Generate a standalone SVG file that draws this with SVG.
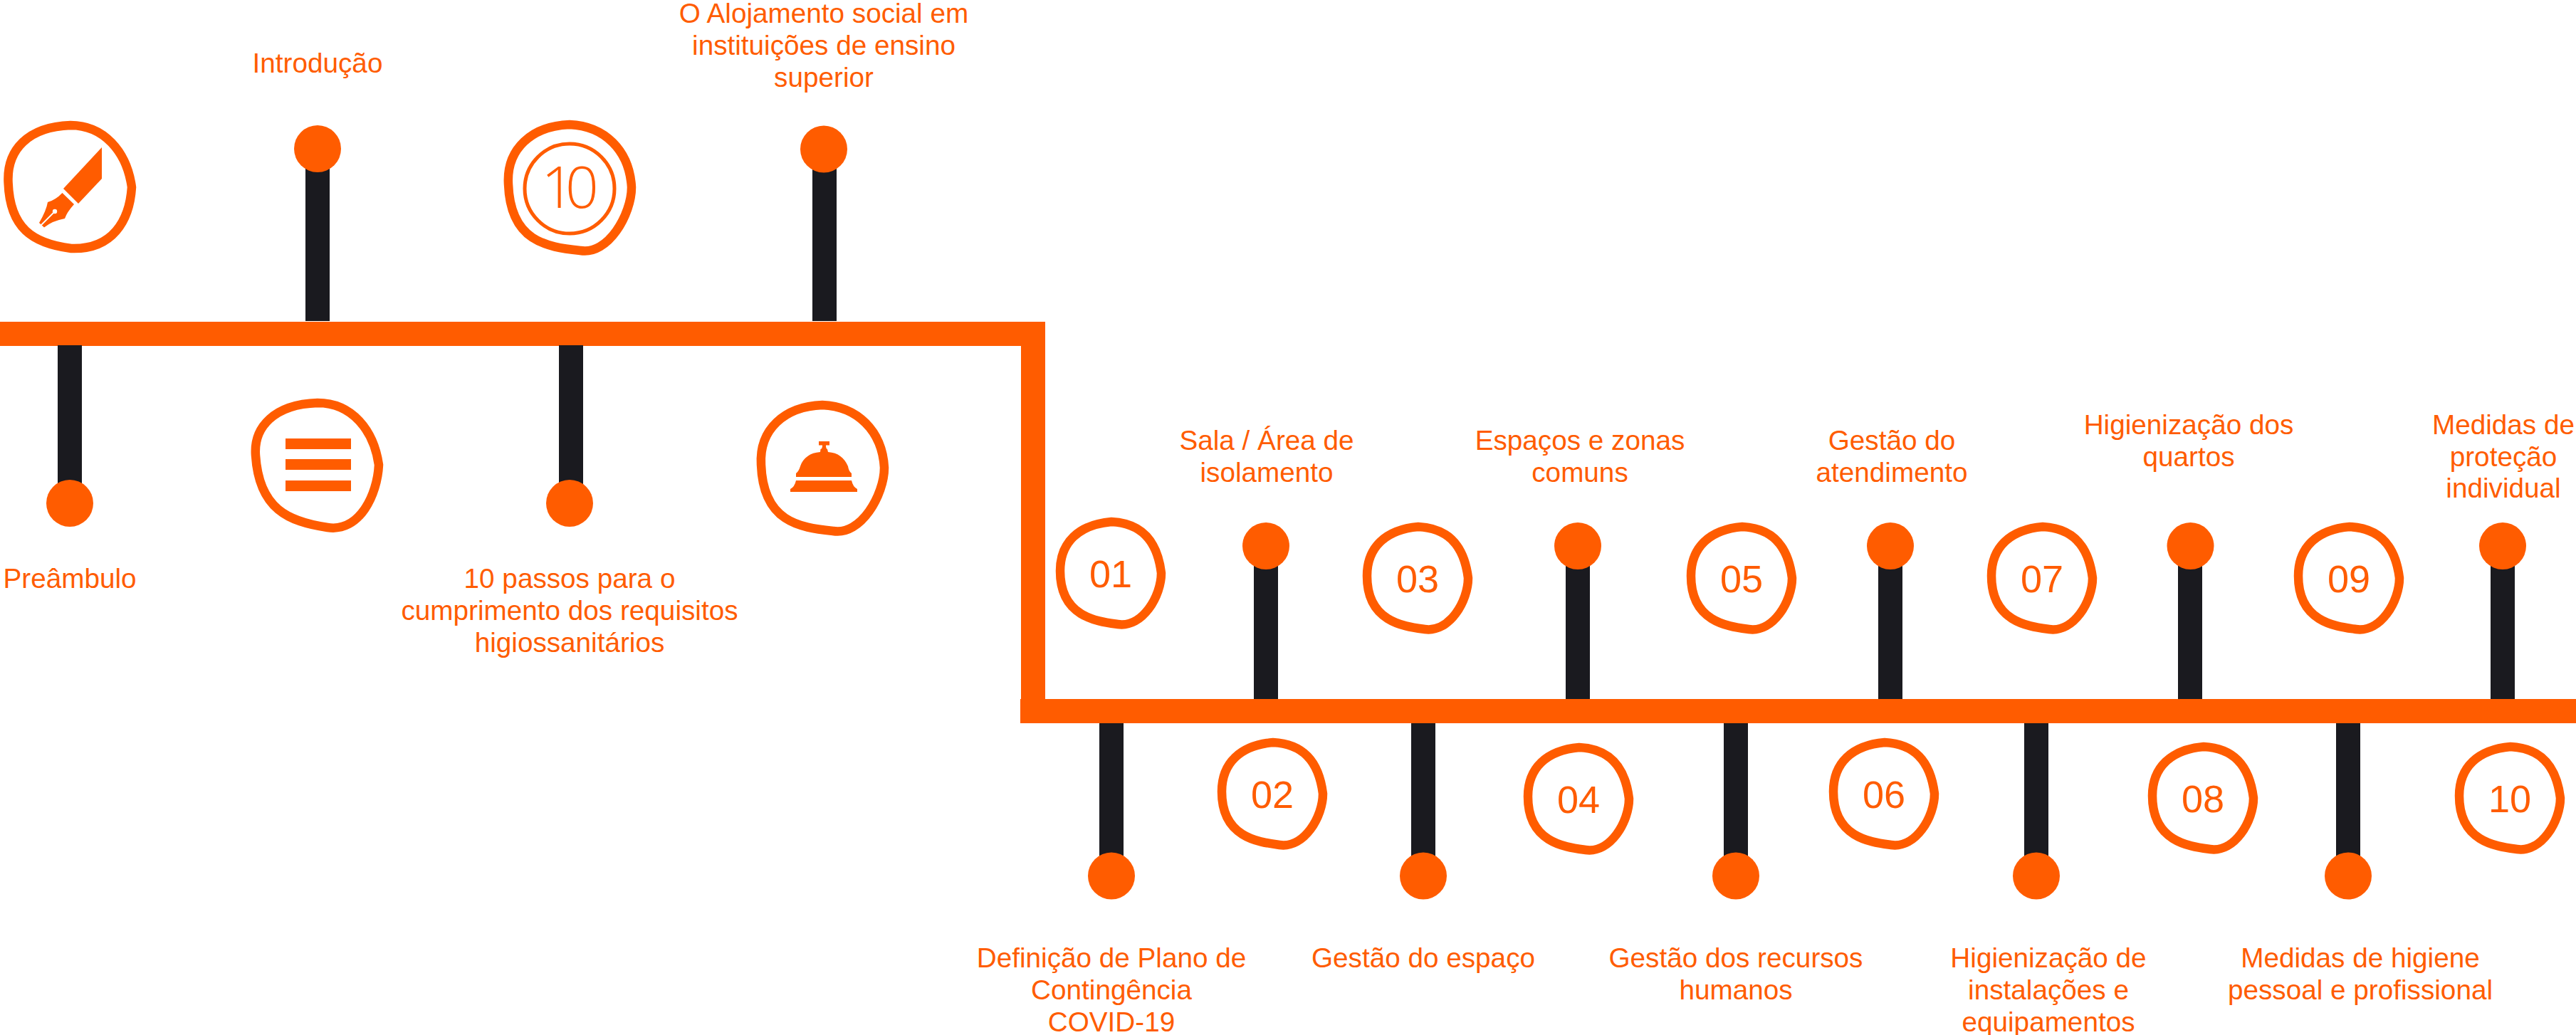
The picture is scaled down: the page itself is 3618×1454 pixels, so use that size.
<svg xmlns="http://www.w3.org/2000/svg" xmlns:xlink="http://www.w3.org/1999/xlink" width="3618" height="1454" viewBox="0 0 3618 1454">
<style>
text{font-family:"Liberation Sans",Arial,sans-serif;fill:#ff5c00;text-anchor:middle}
.l{font-size:38.700px}
.n{font-size:54px}
.blob{fill:none;stroke:#ff5c00;stroke-width:12.500;stroke-linejoin:round}
.bar{fill:#ff5c00}
.stem{fill:#1a1a1f}
.dot{fill:#ff5c00}
.ic{fill:#ff5c00}
.cut{fill:#fff}
</style>
<defs>
<path id="small" class="blob" d="M78 6C118 8 142 30 148 78C148 110 122 155 87 150C58 146 6 140 6 75C6 35 32 10 78 6Z"/>
<path id="big" class="blob" d="M93 6C142 8 177 42 180 94C180 132 147 190 108 183C60 178 10 170 7 90C4 40 40 8 93 6Z"/>
</defs>
<rect width="3618" height="1454" fill="#fff"/>
<g id="connectors">
<rect class="bar" x="0" y="452" width="1468" height="34"/>
<rect class="bar" x="1434" y="452" width="34" height="535"/>
<rect class="bar" x="1433" y="982" width="2185" height="34"/>
<rect class="stem" x="429" y="209" width="34" height="242"/>
<rect class="stem" x="1141" y="209" width="34" height="242"/>
<rect class="stem" x="81" y="485" width="34" height="222"/>
<rect class="stem" x="785" y="485" width="34" height="222"/>
<rect class="stem" x="1761" y="767" width="34" height="215"/>
<rect class="stem" x="2199" y="767" width="34" height="215"/>
<rect class="stem" x="2638" y="767" width="34" height="215"/>
<rect class="stem" x="3059" y="767" width="34" height="215"/>
<rect class="stem" x="3498" y="767" width="34" height="215"/>
<rect class="stem" x="1544" y="1016" width="34" height="214"/>
<rect class="stem" x="1982" y="1016" width="34" height="214"/>
<rect class="stem" x="2421" y="1016" width="34" height="214"/>
<rect class="stem" x="2843" y="1016" width="34" height="214"/>
<rect class="stem" x="3281" y="1016" width="34" height="214"/>
</g>
<g id="node-preambulo-icon">
<path class="blob" d="M99 176C145 176 178 212 185 263C182 310 158 351 100 349C45 342 14 320 11.600 257C9 210 40 178 99 176Z"/>
<path class="ic" d="M143 207V251L110 286L89 265Z"/>
<path class="ic" d="M87.500 271L104 287Q94 298 91 307Q74 310 62 319.500L55 313Q65 296 67 284Q78 281 87.500 271Z"/>
<path d="M76 298L57.500 316.500" stroke="#fff" stroke-width="1.800" fill="none"/>
<circle class="cut" cx="77" cy="297" r="3.200"/>
</g>
<g id="node-preambulo"><circle class="dot" cx="98" cy="707" r="33"/><text class="l" x="98" y="826">Preâmbulo</text></g>
<g id="node-introducao"><circle class="dot" cx="446" cy="209" r="33"/><text class="l" x="446" y="102">Introdução</text></g>
<g id="node-menu-icon">
<path class="blob" d="M446 566C495 566 525 605 532 653C530 695 505 748 460 741C405 733 364 715 359 640C356 600 385 568 446 566Z"/>
<rect class="ic" x="401" y="616" width="92" height="15"/>
<rect class="ic" x="401" y="645" width="92" height="15"/>
<rect class="ic" x="401" y="675" width="92" height="15"/>
</g>
<g id="node-10-icon">
<use xlink:href="#big" href="#big" transform="translate(707,169)"/>
<circle cx="800" cy="265" r="63" fill="none" stroke="#ff5c00" stroke-width="5"/>
<text x="794" y="292" style="font-family:'Open Sans',sans-serif;font-weight:300;font-size:82px;letter-spacing:-13px">10</text>
</g>
<g id="node-10-passos"><circle class="dot" cx="800" cy="707" r="33"/><text class="l" x="800" y="826">10 passos para o</text><text class="l" x="800" y="871">cumprimento dos requisitos</text><text class="l" x="800" y="916">higiossanitários</text></g>
<g id="node-alojamento"><circle class="dot" cx="1157" cy="209.500" r="33"/><text class="l" x="1157" y="32">O Alojamento social em</text><text class="l" x="1157" y="77">instituições de ensino</text><text class="l" x="1157" y="122">superior</text></g>
<g id="node-bell-icon">
<use xlink:href="#big" href="#big" transform="translate(1062,563)"/>
<path class="ic" d="M1118 670V665Q1122 662 1124 655C1128 643 1138 636 1152 635L1152.500 631Q1155 630 1155 627V625.500H1150V620H1165V625.500H1160V627Q1160 630 1162 631L1163 635C1177 636 1186 643 1191 655Q1192 662 1196 665V670Z"/>
<path class="ic" d="M1118 675H1196Q1198 684 1204 687V691H1110V687Q1116 684 1118 675Z"/>
</g>
<g id="node-01"><use xlink:href="#small" href="#small" transform="translate(1483,727)"/><text class="n" x="1560" y="825">01</text></g>
<g id="node-02"><use xlink:href="#small" href="#small" transform="translate(1710,1037)"/><text class="n" x="1787" y="1135">02</text></g>
<g id="node-03"><use xlink:href="#small" href="#small" transform="translate(1914,734)"/><text class="n" x="1991" y="832">03</text></g>
<g id="node-04"><use xlink:href="#small" href="#small" transform="translate(2140,1044)"/><text class="n" x="2217" y="1142">04</text></g>
<g id="node-05"><use xlink:href="#small" href="#small" transform="translate(2369,734)"/><text class="n" x="2446" y="832">05</text></g>
<g id="node-06"><use xlink:href="#small" href="#small" transform="translate(2569,1037)"/><text class="n" x="2646" y="1135">06</text></g>
<g id="node-07"><use xlink:href="#small" href="#small" transform="translate(2791,734)"/><text class="n" x="2868" y="832">07</text></g>
<g id="node-08"><use xlink:href="#small" href="#small" transform="translate(3017,1043)"/><text class="n" x="3094" y="1141">08</text></g>
<g id="node-09"><use xlink:href="#small" href="#small" transform="translate(3222,734)"/><text class="n" x="3299" y="832">09</text></g>
<g id="node-10"><use xlink:href="#small" href="#small" transform="translate(3448,1043)"/><text class="n" x="3525" y="1141">10</text></g>
<g id="node-sala"><circle class="dot" cx="1778" cy="767" r="33"/><text class="l" x="1779" y="632">Sala / Área de</text><text class="l" x="1779" y="677">isolamento</text></g>
<g id="node-espacos"><circle class="dot" cx="2216" cy="767" r="33"/><text class="l" x="2219" y="632">Espaços e zonas</text><text class="l" x="2219" y="677">comuns</text></g>
<g id="node-atendimento"><circle class="dot" cx="2655" cy="767" r="33"/><text class="l" x="2657" y="632">Gestão do</text><text class="l" x="2657" y="677">atendimento</text></g>
<g id="node-quartos"><circle class="dot" cx="3076.500" cy="767" r="33"/><text class="l" x="3074" y="610">Higienização dos</text><text class="l" x="3074" y="655">quartos</text></g>
<g id="node-protecao"><circle class="dot" cx="3515" cy="767" r="33"/><text class="l" x="3516" y="610">Medidas de</text><text class="l" x="3516" y="655">proteção</text><text class="l" x="3516" y="699">individual</text></g>
<g id="node-plano"><circle class="dot" cx="1561" cy="1230.500" r="33"/><text class="l" x="1561" y="1359">Definição de Plano de</text><text class="l" x="1561" y="1404">Contingência</text><text class="l" x="1561" y="1449">COVID-19</text></g>
<g id="node-espaco"><circle class="dot" cx="1999" cy="1230.500" r="33"/><text class="l" x="1999" y="1359">Gestão do espaço</text></g>
<g id="node-recursos"><circle class="dot" cx="2438" cy="1230.500" r="33"/><text class="l" x="2438" y="1359">Gestão dos recursos</text><text class="l" x="2438" y="1404">humanos</text></g>
<g id="node-instalacoes"><circle class="dot" cx="2860" cy="1230.500" r="33"/><text class="l" x="2877" y="1359">Higienização de</text><text class="l" x="2877" y="1404">instalações e</text><text class="l" x="2877" y="1449">equipamentos</text></g>
<g id="node-higiene"><circle class="dot" cx="3298" cy="1230.500" r="33"/><text class="l" x="3315" y="1359">Medidas de higiene</text><text class="l" x="3315" y="1404">pessoal e profissional</text></g>
</svg>
